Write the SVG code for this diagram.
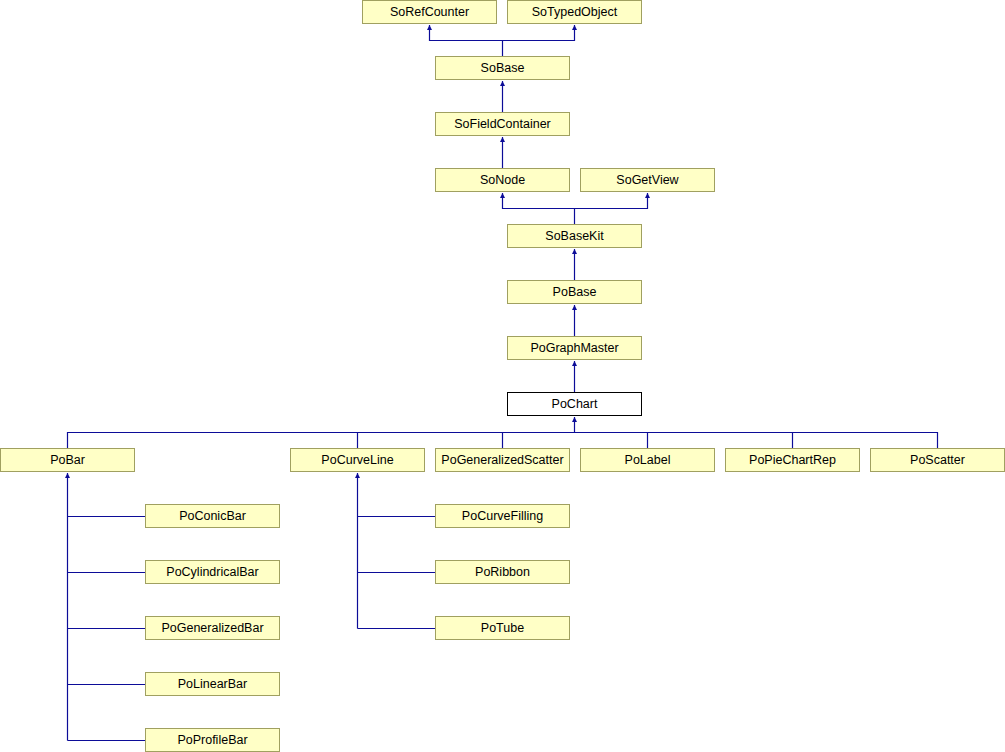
<svg xmlns="http://www.w3.org/2000/svg" width="1005" height="752" viewBox="0 0 1005 752">
<style>
.n rect{fill:#ffffc6;stroke:#a0a060;stroke-width:1}
.n.cur rect{fill:#ffffff;stroke:#000000}
.n text{font-family:"Liberation Sans",Arial,sans-serif;font-size:12.5px;fill:#000000;text-anchor:middle}
.e path{fill:none;stroke:#0c0c98;stroke-width:1.2}
</style>
<defs>
<marker id="ah" viewBox="0 0 10 10" refX="10" refY="5" markerWidth="6" markerHeight="5" markerUnits="userSpaceOnUse" orient="auto">
<path d="M0,0 L10,5 L0,10 z" fill="#0c0c98"/>
</marker>
</defs>
<rect width="1005" height="752" fill="#ffffff"/>
<g class="e" id="connectors">
<path d="M502.5,56 V40.5 H429.5 V25" marker-end="url(#ah)"/>
<path d="M502.5,40.5 H574.5 V25" marker-end="url(#ah)"/>
<path d="M502.5,112 V81" marker-end="url(#ah)"/>
<path d="M502.5,168 V137" marker-end="url(#ah)"/>
<path d="M574.5,224 V208.5 H502.5 V193" marker-end="url(#ah)"/>
<path d="M574.5,208.5 H647.5 V193" marker-end="url(#ah)"/>
<path d="M574.5,280 V249" marker-end="url(#ah)"/>
<path d="M574.5,336 V305" marker-end="url(#ah)"/>
<path d="M574.5,392 V361" marker-end="url(#ah)"/>
<path d="M67.5,448 V432.5 H937.5 V448"/>
<path d="M357.5,448 V432.5"/>
<path d="M502.5,448 V432.5"/>
<path d="M647.5,448 V432.5"/>
<path d="M792.5,448 V432.5"/>
<path d="M574.5,432.5 V417" marker-end="url(#ah)"/>
<path d="M67.5,740.5 V473" marker-end="url(#ah)"/>
<path d="M67.5,516.5 H145"/>
<path d="M67.5,572.5 H145"/>
<path d="M67.5,628.5 H145"/>
<path d="M67.5,684.5 H145"/>
<path d="M67.5,740.5 H145"/>
<path d="M357.5,628.5 V473" marker-end="url(#ah)"/>
<path d="M357.5,516.5 H435"/>
<path d="M357.5,572.5 H435"/>
<path d="M357.5,628.5 H435"/>
</g>
<g class="n" id="SoRefCounter"><rect x="362.5" y="0.5" width="134" height="23"/><text x="429.5" y="16">SoRefCounter</text></g>
<g class="n" id="SoTypedObject"><rect x="507.5" y="0.5" width="134" height="23"/><text x="574.5" y="16">SoTypedObject</text></g>
<g class="n" id="SoBase"><rect x="435.5" y="56.5" width="134" height="23"/><text x="502.5" y="72">SoBase</text></g>
<g class="n" id="SoFieldContainer"><rect x="435.5" y="112.5" width="134" height="23"/><text x="502.5" y="128">SoFieldContainer</text></g>
<g class="n" id="SoNode"><rect x="435.5" y="168.5" width="134" height="23"/><text x="502.5" y="184">SoNode</text></g>
<g class="n" id="SoGetView"><rect x="580.5" y="168.5" width="134" height="23"/><text x="647.5" y="184">SoGetView</text></g>
<g class="n" id="SoBaseKit"><rect x="507.5" y="224.5" width="134" height="23"/><text x="574.5" y="240">SoBaseKit</text></g>
<g class="n" id="PoBase"><rect x="507.5" y="280.5" width="134" height="23"/><text x="574.5" y="296">PoBase</text></g>
<g class="n" id="PoGraphMaster"><rect x="507.5" y="336.5" width="134" height="23"/><text x="574.5" y="352">PoGraphMaster</text></g>
<g class="n cur" id="PoChart"><rect x="507.5" y="392.5" width="134" height="23"/><text x="574.5" y="408">PoChart</text></g>
<g class="n" id="PoBar"><rect x="0.5" y="448.5" width="134" height="23"/><text x="67.5" y="464">PoBar</text></g>
<g class="n" id="PoCurveLine"><rect x="290.5" y="448.5" width="134" height="23"/><text x="357.5" y="464">PoCurveLine</text></g>
<g class="n" id="PoGeneralizedScatter"><rect x="435.5" y="448.5" width="134" height="23"/><text x="502.5" y="464">PoGeneralizedScatter</text></g>
<g class="n" id="PoLabel"><rect x="580.5" y="448.5" width="134" height="23"/><text x="647.5" y="464">PoLabel</text></g>
<g class="n" id="PoPieChartRep"><rect x="725.5" y="448.5" width="134" height="23"/><text x="792.5" y="464">PoPieChartRep</text></g>
<g class="n" id="PoScatter"><rect x="870.5" y="448.5" width="134" height="23"/><text x="937.5" y="464">PoScatter</text></g>
<g class="n" id="PoConicBar"><rect x="145.5" y="504.5" width="134" height="23"/><text x="212.5" y="520">PoConicBar</text></g>
<g class="n" id="PoCylindricalBar"><rect x="145.5" y="560.5" width="134" height="23"/><text x="212.5" y="576">PoCylindricalBar</text></g>
<g class="n" id="PoGeneralizedBar"><rect x="145.5" y="616.5" width="134" height="23"/><text x="212.5" y="632">PoGeneralizedBar</text></g>
<g class="n" id="PoLinearBar"><rect x="145.5" y="672.5" width="134" height="23"/><text x="212.5" y="688">PoLinearBar</text></g>
<g class="n" id="PoProfileBar"><rect x="145.5" y="728.5" width="134" height="23"/><text x="212.5" y="744">PoProfileBar</text></g>
<g class="n" id="PoCurveFilling"><rect x="435.5" y="504.5" width="134" height="23"/><text x="502.5" y="520">PoCurveFilling</text></g>
<g class="n" id="PoRibbon"><rect x="435.5" y="560.5" width="134" height="23"/><text x="502.5" y="576">PoRibbon</text></g>
<g class="n" id="PoTube"><rect x="435.5" y="616.5" width="134" height="23"/><text x="502.5" y="632">PoTube</text></g>
</svg>
